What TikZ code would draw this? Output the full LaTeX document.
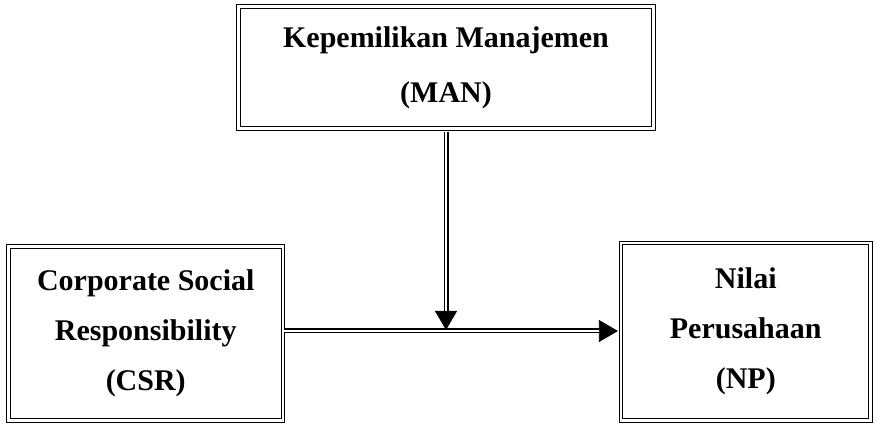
\documentclass[tikz,border=0pt]{standalone}
\usepackage{fontspec}
\setmainfont{Liberation Serif}
\usetikzlibrary{arrows.meta}
\tikzstyle{dbox} = [rectangle, draw, double, double distance=2.4pt, line width=1.2pt, align=center, font=\bfseries\fontsize{30}{50}\selectfont]
\tikzstyle{dline} = [draw, double, double distance=2.6pt, line width=1.2pt]
\tikzstyle{tip} = [draw, line width=0.8pt, -{Triangle[length=19pt, width=22pt]}]

\begin{document}
\begin{tikzpicture}[x=1pt, y=-1pt]
			\useasboundingbox (0,0) rectangle (875,427);
			\node [dbox, minimum width=415pt, minimum height=122pt, font=\bfseries\fontsize{30}{55}\selectfont] (man) at (446,67.5) {Kepemilikan Manajemen\\(MAN)};
			\node [dbox, minimum width=274.5pt, minimum height=174pt] (csr) at (145.75,333.5) {Corporate Social\\Responsibility\\(CSR)};
			\node [dbox, minimum width=249.5pt, minimum height=177.5pt] (np) at (745.75,331.75) {Nilai\\Perusahaan\\(NP)};
			\coordinate (junc) at (446,331);
			
			% CSR -> NP
			\draw [tip] (junc -| csr.east) -- ([xshift=-2.5pt]junc -| np.west);
			\draw [dline, shorten >=19pt] (junc -| csr.east) -- ([xshift=-2.5pt]junc -| np.west);
			
			% MAN -> arrow
			\draw [tip] ([yshift=-2.5pt]junc |- man.south) -- ([yshift=1pt]junc);
			\draw [dline, shorten >=19pt] ([yshift=-2.5pt]junc |- man.south) -- ([yshift=1pt]junc);
		\end{tikzpicture}
\end{document}
